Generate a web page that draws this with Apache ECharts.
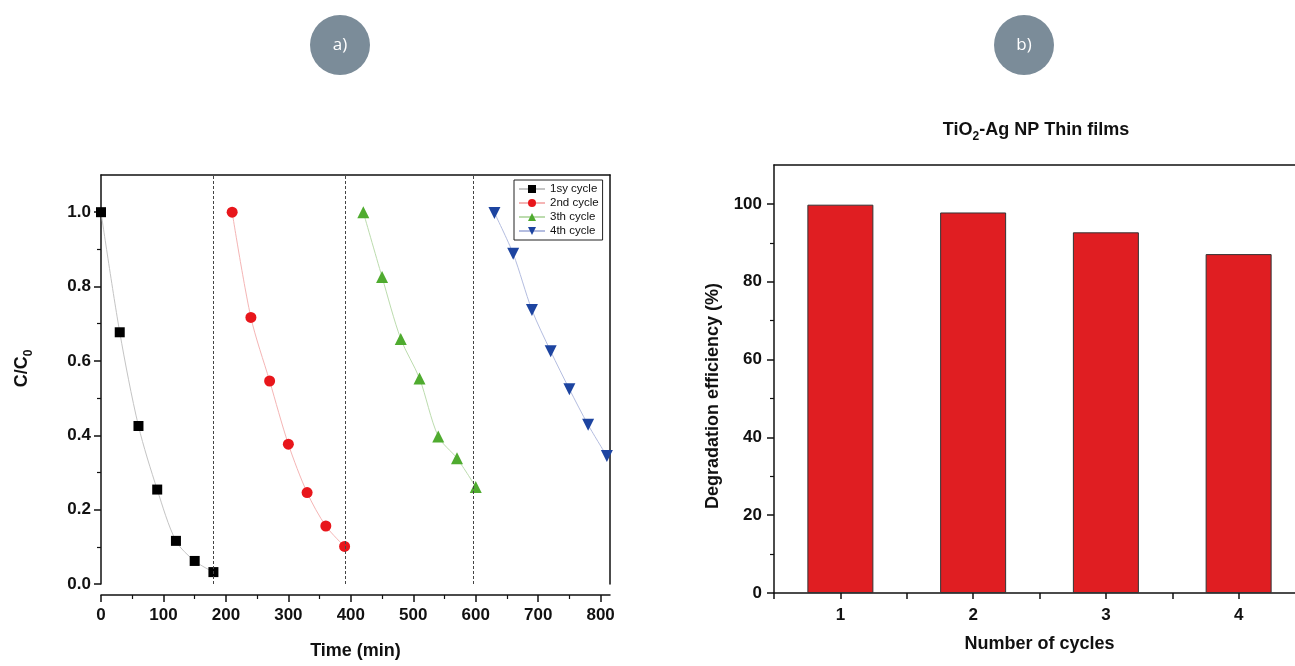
<!DOCTYPE html>
<html>
<head>
<meta charset="utf-8">
<script src="https://cdn.jsdelivr.net/npm/echarts@6/dist/echarts.min.js"></script>
<style>
html,body{margin:0;padding:0;background:#fff;}
#chart{width:1295px;height:666px;}
</style>
</head>
<body>
<div id="chart"></div>
<script>
// ---- data (panel a) ----
const cycleNames = ['1sy cycle', '2nd cycle', '3th cycle', '4th cycle'];
const time1 = [0, 30, 60, 90, 120, 150, 180];
const conc1 = [1.0, 0.677, 0.425, 0.254, 0.116, 0.062, 0.032];
const time2 = [210, 240, 270, 300, 330, 360, 390];
const conc2 = [1.0, 0.717, 0.546, 0.376, 0.246, 0.156, 0.101];
const time3 = [420, 450, 480, 510, 540, 570, 600];
const conc3 = [1.0, 0.826, 0.659, 0.553, 0.397, 0.338, 0.261];
const time4 = [630, 660, 690, 720, 750, 780, 810];
const conc4 = [0.998, 0.888, 0.737, 0.626, 0.524, 0.428, 0.344];
const dividers = [180, 391, 596];
const timeTicks = [0, 100, 200, 300, 400, 500, 600, 700, 800];
const concTicks = [0, 0.2, 0.4, 0.6, 0.8, 1.0];
// ---- data (panel b) ----
const cycles = [1, 2, 3, 4];
const efficiency = [99.8, 97.8, 92.7, 87.1];
const effTicks = [0, 20, 40, 60, 80, 100];

const FONT = '"Liberation Sans", Arial, sans-serif';
const pair = (xs, ys) => xs.map((x, i) => [x, ys[i]]);

const lineOn = () => ({ show: true, onZero: false, lineStyle: { color: '#111', width: 1.5 } });
const tickLabel = { fontFamily: FONT, fontWeight: 'bold', fontSize: 17, color: '#111' };
const majorTick = (len, vals) => ({ show: true, inside: false, length: len, customValues: vals, lineStyle: { color: '#111', width: 1.5 } });
const minorTick = () => ({ show: true, splitNumber: 2, length: 4, lineStyle: { color: '#111', width: 1.2 } });
const off = () => ({ show: false });
const lineOff = () => ({ show: false, onZero: false });

function lineSeries(name, xs, ys, symbol, size, color, lineColor, rotate) {
  return {
    name, type: 'line', xAxisIndex: 0, yAxisIndex: 0,
    data: pair(xs, ys), symbol, symbolSize: size, symbolRotate: rotate || 0,
    smooth: 0.3,
    lineStyle: { color: lineColor, width: 1 },
    itemStyle: { color, borderWidth: 0 },
    emphasis: { disabled: true },
    z: 3
  };
}

const chart = echarts.init(document.getElementById('chart'), null, { renderer: 'canvas' });

const s1 = lineSeries(cycleNames[0], time1, conc1, 'rect', 10, '#000000', '#c4c4c4');
s1.markLine = {
  silent: true, symbol: ['none', 'none'], label: { show: false },
  lineStyle: { type: [3, 2], color: '#444', width: 1 },
  data: dividers.map(v => ({ xAxis: v })),
  animation: false
};

const option = {
  animation: false,
  backgroundColor: '#ffffff',
  textStyle: { fontFamily: FONT },
  title: {
    text: '{a|TiO}{s|2}{a|-Ag NP Thin films}',
    left: 1031, top: 116, textAlign: 'center',
    textStyle: {
      rich: {
        a: { fontFamily: FONT, fontWeight: 'bold', fontSize: 18, color: '#111', verticalAlign: 'bottom', padding: [0, 0, 4, 0] },
        s: { fontFamily: FONT, fontWeight: 'bold', fontSize: 12, color: '#111', verticalAlign: 'bottom' }
      }
    }
  },
  legend: {
    data: cycleNames,
    orient: 'vertical', left: 514, top: 180,
    borderColor: '#222', borderWidth: 1, padding: [3, 4, 3, 4],
    itemGap: 2, itemWidth: 26, itemHeight: 10,
    textStyle: { fontFamily: FONT, fontSize: 11.5, color: '#111' },
    selectedMode: false
  },
  grid: [
    { left: 101, top: 175, width: 509, height: 409, outerBoundsMode: 'none' },
    { left: 774, top: 165, width: 531, height: 428, outerBoundsMode: 'none' },
    { left: 101, top: 594, width: 509, height: 1, outerBoundsMode: 'none' }
  ],
  xAxis: [
    { // data axis of panel a (its visible copy is the offset axis below)
      gridIndex: 0, type: 'value', min: 0, max: 815,
      axisLine: lineOff(), axisTick: off(), axisLabel: off(), splitLine: off()
    },
    { // top frame of panel a
      gridIndex: 0, type: 'value', position: 'top', min: 0, max: 815,
      axisLine: lineOn(), axisTick: off(), axisLabel: off(), splitLine: off()
    },
    { // panel b cycles
      gridIndex: 1, type: 'value', min: 0.5, max: 4.5, interval: 0.5,
      axisLine: lineOn(),
      axisTick: { show: true, inside: false, length: 6, lineStyle: { color: '#111', width: 1.5 } },
      axisLabel: Object.assign({ margin: 14, formatter: v => (Number.isInteger(v) ? String(v) : '') }, tickLabel),
      splitLine: off(),
      name: 'Number of cycles', nameLocation: 'middle', nameGap: 42,
      nameTextStyle: { fontFamily: FONT, fontWeight: 'bold', fontSize: 18, color: '#111' }
    },
    { // top frame of panel b
      gridIndex: 1, type: 'value', position: 'top', min: 0.5, max: 4.5,
      axisLine: lineOn(), axisTick: off(), axisLabel: off(), splitLine: off()
    },
    { // visible, offset time axis of panel a
      gridIndex: 2, type: 'value', min: 0, max: 815, interval: 100,
      axisLine: lineOn(),
      axisTick: majorTick(7, timeTicks),
      minorTick: minorTick(),
      axisLabel: Object.assign({ margin: 12, customValues: timeTicks }, tickLabel),
      splitLine: off(),
      name: 'Time (min)', nameLocation: 'middle', nameGap: 47,
      nameTextStyle: { fontFamily: FONT, fontWeight: 'bold', fontSize: 18, color: '#111' }
    }
  ],
  yAxis: [
    {
      gridIndex: 0, type: 'value', min: 0, max: 1.1, interval: 0.2,
      axisLine: lineOn(),
      axisTick: majorTick(7, concTicks),
      minorTick: minorTick(),
      axisLabel: Object.assign({ margin: 10, customValues: concTicks, formatter: v => v.toFixed(1) }, tickLabel),
      splitLine: off(),
      name: '{m|C/C}{s|0}', nameLocation: 'middle', nameGap: 66,
      nameTextStyle: {
        padding: [0, 0, 0, 22],
        rich: {
          m: { fontFamily: FONT, fontWeight: 'bold', fontSize: 18, color: '#111', verticalAlign: 'bottom', padding: [0, 0, 4, 0] },
          s: { fontFamily: FONT, fontWeight: 'bold', fontSize: 12, color: '#111', verticalAlign: 'bottom' }
        }
      }
    },
    { // right frame of panel a
      gridIndex: 0, type: 'value', position: 'right', min: 0, max: 1.1,
      axisLine: lineOn(), axisTick: off(), axisLabel: off(), splitLine: off()
    },
    {
      gridIndex: 1, type: 'value', min: 0, max: 110, interval: 20,
      axisLine: lineOn(),
      axisTick: majorTick(7, effTicks),
      minorTick: minorTick(),
      axisLabel: Object.assign({ margin: 12, customValues: effTicks }, tickLabel),
      splitLine: off(),
      name: 'Degradation efficiency (%)', nameLocation: 'middle', nameGap: 52,
      nameTextStyle: { fontFamily: FONT, fontWeight: 'bold', fontSize: 18, color: '#111', padding: [0, 34, 0, 0] }
    },
    { // helper axis for the offset time-axis grid
      gridIndex: 2, type: 'value', min: 0, max: 1,
      axisLine: lineOff(), axisTick: off(), axisLabel: off(), splitLine: off()
    }
  ],
  graphic: [
    { type: 'circle', shape: { cx: 340, cy: 45, r: 30 }, style: { fill: '#7b8c99' } },
    { type: 'text', x: 340, y: 45, style: { text: 'a)', fill: '#ffffff', font: '17px "Open Sans", sans-serif', textAlign: 'center', textVerticalAlign: 'middle' } },
    { type: 'circle', shape: { cx: 1024, cy: 45, r: 30 }, style: { fill: '#7b8c99' } },
    { type: 'text', x: 1024, y: 45, style: { text: 'b)', fill: '#ffffff', font: '17px "Open Sans", sans-serif', textAlign: 'center', textVerticalAlign: 'middle' } }
  ],
  series: [
    s1,
    lineSeries(cycleNames[1], time2, conc2, 'circle', 11, '#e8161b', '#f5b5b5'),
    lineSeries(cycleNames[2], time3, conc3, 'triangle', 12, '#4fab2f', '#bcdcae'),
    lineSeries(cycleNames[3], time4, conc4, 'triangle', 12, '#1d44a0', '#b4bde0', 180),
    {
      name: 'efficiency', type: 'bar', xAxisIndex: 2, yAxisIndex: 2,
      data: pair(cycles, efficiency), barWidth: 66,
      itemStyle: { color: '#e01e22', borderColor: '#333', borderWidth: 1 },
      emphasis: { disabled: true }
    }
  ]
};
chart.setOption(option);
</script>
</body>
</html>
